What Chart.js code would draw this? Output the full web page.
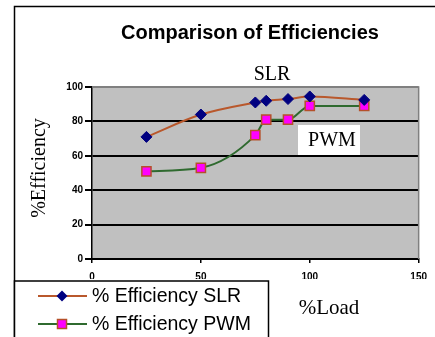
<!DOCTYPE html>
<html>
<head>
<meta charset="utf-8">
<script src="https://cdn.jsdelivr.net/npm/chart.js@4/dist/chart.umd.min.js"></script>
<style>
  html, body { margin: 0; padding: 0; background: #fff; }
  canvas { display: block; }
</style>
</head>
<body>
<canvas id="c" width="435" height="337"></canvas>
<script>
// Load points (% of rated load) and measured efficiencies
const loadPct = [25, 50, 75, 80, 90, 100, 125];
const slrEff  = [71, 84, 91, 92, 93, 94.5, 92.5];
const pwmEff  = [51, 53, 72, 81, 81, 89, 89];

const xTicks = [0, 50, 100, 150];
const yTicks = [0, 20, 40, 60, 80, 100];

const seriesNames = ['% Efficiency SLR', '% Efficiency PWM'];
const chartTitle = 'Comparison of Efficiencies';

const SERIF = '"Liberation Serif", "DejaVu Serif", serif';
const SANS = '"Liberation Sans", Arial, sans-serif';

const SLR_LINE = '#b9582c';
const SLR_MARK = '#000080';
const PWM_LINE = '#2f6a2f';
const PWM_MARK = '#ff00ff';
const PWM_EDGE = '#b5502a';

function toXY(xs, ys) { return xs.map((x, i) => ({ x: x, y: ys[i] })); }

function diamond(ctx, x, y, r) {
  ctx.beginPath();
  ctx.moveTo(x, y - r); ctx.lineTo(x + r, y); ctx.lineTo(x, y + r); ctx.lineTo(x - r, y);
  ctx.closePath();
}

const decorations = {
  id: 'decorations',
  beforeDraw(chart) {
    const { ctx, chartArea: a } = chart;
    ctx.save();
    ctx.fillStyle = '#c0c0c0';
    ctx.fillRect(a.left, a.top, a.right - a.left, a.bottom - a.top);
    ctx.restore();
  },
  beforeDatasetsDraw(chart) {
    const { ctx, chartArea: a } = chart;
    ctx.save();
    ctx.strokeStyle = '#808080';
    ctx.lineWidth = 1.5;
    ctx.beginPath();
    ctx.moveTo(a.left, a.top); ctx.lineTo(a.right, a.top); ctx.lineTo(a.right, a.bottom);
    ctx.stroke();
    ctx.restore();
  },
  afterDraw(chart) {
    const { ctx } = chart;
    ctx.save();
    // outer frame
    ctx.strokeStyle = '#000';
    ctx.lineWidth = 1.5;
    ctx.strokeRect(14.5, 6.5, 440, 340);

    // title
    ctx.fillStyle = '#000';
    ctx.font = 'bold 20px ' + SANS;
    ctx.textAlign = 'center';
    ctx.textBaseline = 'middle';
    ctx.fillText(chartTitle, 250, 33);

    // series captions
    ctx.font = '20px ' + SERIF;
    ctx.fillText('SLR', 272, 75);
    ctx.fillStyle = '#fff';
    ctx.fillRect(298, 125, 62, 30);
    ctx.fillStyle = '#000';
    ctx.fillText('PWM', 332, 141);

    // axis titles
    ctx.font = '21px ' + SERIF;
    ctx.fillText('%Load', 329, 308);
    ctx.save();
    ctx.translate(40, 168);
    ctx.rotate(-Math.PI / 2);
    ctx.font = '20px ' + SERIF;
    ctx.fillText('%Efficiency', 0, 0);
    ctx.restore();

    // legend box
    ctx.fillStyle = '#fff';
    ctx.fillRect(14.5, 281, 254, 60);
    ctx.strokeStyle = '#000';
    ctx.lineWidth = 1.5;
    ctx.strokeRect(14.5, 281, 254, 60);

    const rows = [
      { y: 296, line: SLR_LINE, draw: (x, y) => { diamond(ctx, x, y, 5.5); ctx.fillStyle = SLR_MARK; ctx.fill(); } },
      { y: 324, line: PWM_LINE, draw: (x, y) => {
          ctx.fillStyle = PWM_MARK; ctx.fillRect(x - 4.5, y - 4.5, 9, 9);
          ctx.strokeStyle = PWM_EDGE; ctx.lineWidth = 1.5; ctx.strokeRect(x - 4.5, y - 4.5, 9, 9);
        } }
    ];
    rows.forEach((r, i) => {
      ctx.strokeStyle = r.line;
      ctx.lineWidth = 2;
      ctx.beginPath(); ctx.moveTo(38, r.y); ctx.lineTo(87, r.y); ctx.stroke();
      r.draw(62, r.y);
      ctx.fillStyle = '#000';
      ctx.font = '19.5px ' + SANS;
      ctx.textAlign = 'left';
      ctx.textBaseline = 'middle';
      ctx.fillText(seriesNames[i], 92, r.y + 1);
    });
    ctx.restore();
  }
};

new Chart(document.getElementById('c'), {
  type: 'line',
  data: {
    datasets: [
      {
        label: seriesNames[0],
        data: toXY(loadPct, slrEff),
        borderColor: SLR_LINE,
        borderWidth: 2,
        cubicInterpolationMode: 'monotone',
        pointStyle: 'rectRot',
        pointRadius: 5.5,
        pointBackgroundColor: SLR_MARK,
        pointBorderColor: SLR_MARK,
        pointBorderWidth: 1
      },
      {
        label: seriesNames[1],
        data: toXY(loadPct, pwmEff),
        borderColor: PWM_LINE,
        borderWidth: 2,
        cubicInterpolationMode: 'monotone',
        pointStyle: 'rect',
        pointRadius: 6.5,
        pointBackgroundColor: PWM_MARK,
        pointBorderColor: PWM_EDGE,
        pointBorderWidth: 1.5
      }
    ]
  },
  options: {
    responsive: false,
    devicePixelRatio: 1,
    animation: false,
    layout: { padding: { left: 0, top: 87, right: 14, bottom: 58 } },
    plugins: { legend: { display: false }, title: { display: false }, tooltip: { enabled: false } },
    scales: {
      x: {
        type: 'linear',
        min: 0, max: 150,
        afterFit: s => { s.height = 20; },
        afterBuildTicks: s => { s.ticks = xTicks.map(v => ({ value: v })); },
        grid: { drawOnChartArea: false, tickLength: 4, color: '#000', lineWidth: 1.5 },
        border: { color: '#000', width: 2 },
        ticks: { color: '#000', padding: 8, maxRotation: 0, font: { family: SANS, size: 10, weight: 'bold' } }
      },
      y: {
        min: 0, max: 100,
        afterFit: s => { s.width = 92; },
        afterBuildTicks: s => { s.ticks = yTicks.map(v => ({ value: v })); },
        grid: {
          color: c => (c.tick && c.tick.value === 100) ? '#808080' : '#000',
          tickColor: '#000',
          lineWidth: 2,
          tickLength: 7
        },
        border: { color: '#000', width: 1.5 },
        ticks: { color: '#000', padding: 2, font: { family: SANS, size: 10, weight: 'bold' } }
      }
    }
  },
  plugins: [decorations]
});
</script>
</body>
</html>
